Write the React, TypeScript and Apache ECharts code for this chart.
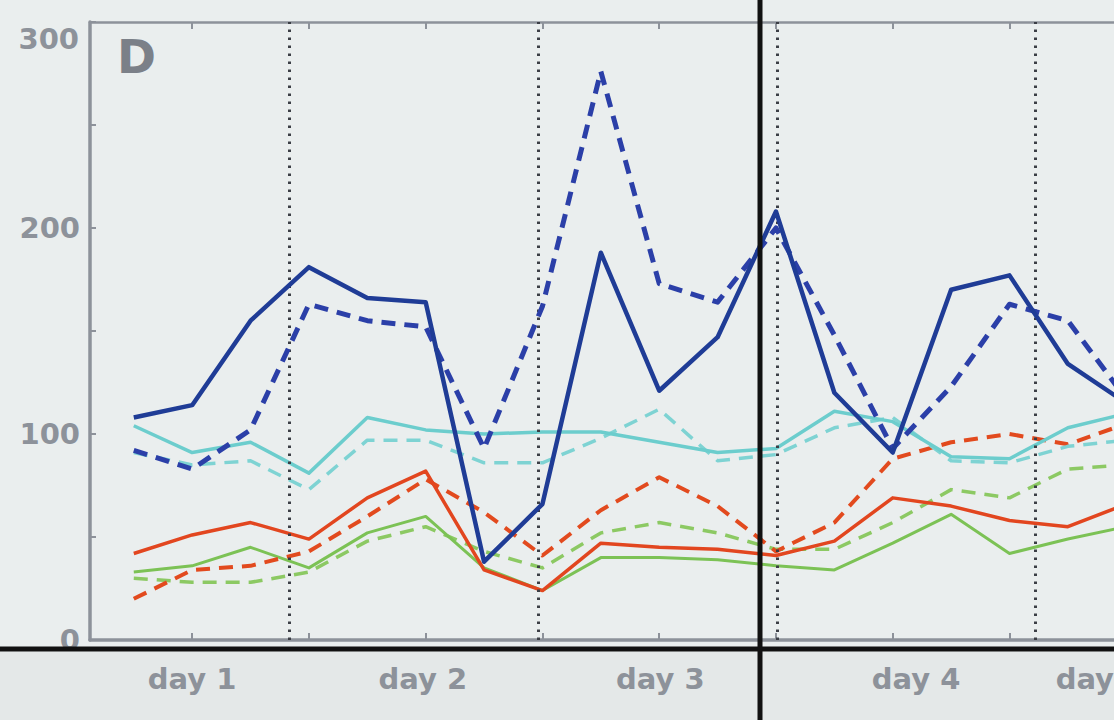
import React, { useEffect, useRef } from "react";
import * as echarts from "echarts";

// sample index 0..17 (four samples per ~day)
const solidBlue = [108, 114, 155, 181, 166, 164, 38, 66, 188, 121, 147, 208, 120, 91, 170, 177, 134, 115];
const dashedBlue = [92, 83, 102, 163, 155, 152, 93, 162, 276, 173, 164, 200, 148, 93, 123, 163, 155, 117];
const solidCyan = [104, 91, 96, 81, 108, 102, 100, 101, 101, 96, 91, 93, 111, 106, 89, 88, 103, 110];
const dashedCyan = [91, 85, 87, 73, 97, 97, 86, 86, 98, 112, 87, 90, 103, 108, 87, 86, 94, 97];
const solidRed = [42, 51, 57, 49, 69, 82, 34, 24, 47, 45, 44, 41, 48, 69, 65, 58, 55, 66];
const dashedRed = [20, 34, 36, 43, 60, 78, 62, 41, 63, 79, 65, 43, 57, 88, 96, 100, 95, 105];
const solidGreen = [33, 36, 45, 35, 52, 60, 35, 24, 40, 40, 39, 36, 34, 47, 61, 42, 49, 55];
const dashedGreen = [30, 28, 28, 33, 48, 55, 43, 35, 52, 57, 52, 44, 44, 57, 73, 69, 83, 85];

const dayLabels = ["day 1", "day 2", "day 3", "day 4", "day 5"];
const dayLabelPos = [1, 4.95, 9.02, 13.4, 16.55];
const tickPos = [1, 3, 5, 7, 9, 11, 13, 15];
const dayBoundaries = [2.67, 6.92, 11.02, 15.44];
const yTickLabels = [0, 100, 200, 300];

const toPairs = (arr: number[]) => arr.map((v, i) => [i, v]);

export default function App() {
  const ref = useRef<HTMLDivElement>(null);
  useEffect(() => {
    document.body.style.margin = "0";
    document.body.style.overflow = "hidden";
    const chart = echarts.init(ref.current!, undefined, { renderer: "svg" });
    const gray = "#8d929a";
    const font = "DejaVu Sans";
    const mk = (name: string, data: number[], color: string, width: number, dashed: boolean, z: number, extra: any = {}) => ({
      name,
      type: "line",
      data: toPairs(data),
      symbol: "none",
      z,
      lineStyle: { color, width, type: dashed ? [14, 9] : "solid", cap: "butt", join: "round" },
      ...extra,
    });
    chart.setOption({
      animation: false,
      backgroundColor: "#eaeeee",
      grid: { left: 90, top: 22, bottom: 80, right: 0, containLabel: false, outerBoundsMode: "none" },
      xAxis: [
        {
          type: "value",
          min: -0.75,
          max: 16.79,
          position: "bottom",
          splitLine: { show: false },
          axisLine: { show: true, onZero: false, lineStyle: { color: gray, width: 3.5 } },
          axisTick: { show: true, inside: true, length: 7, customValues: tickPos, lineStyle: { color: gray, width: 2 } },
          axisLabel: {
            customValues: dayLabelPos,
            formatter: (v: number) => {
              const k = dayLabelPos.findIndex((p) => Math.abs(p - v) < 1e-6);
              return k >= 0 ? dayLabels[k] : "";
            },
            color: gray,
            fontFamily: font,
            fontWeight: "bold",
            fontSize: 29,
            margin: 24,
          },
        },
        {
          type: "value",
          min: -0.75,
          max: 16.79,
          position: "top",
          splitLine: { show: false },
          axisLine: { show: true, onZero: false, lineStyle: { color: gray, width: 2.5 } },
          axisTick: { show: true, inside: true, length: 7, customValues: tickPos, lineStyle: { color: gray, width: 2 } },
          axisLabel: { show: false },
        },
      ],
      yAxis: {
        type: "value",
        min: 0,
        max: 300,
        interval: 50,
        splitLine: { show: false },
        axisLine: { show: true, onZero: false, lineStyle: { color: gray, width: 3.5 } },
        axisTick: { show: true, inside: true, length: 6, lineStyle: { color: gray, width: 2 } },
        axisLabel: {
          formatter: (v: number) => (yTickLabels.includes(v) && v !== 300 ? String(v) : ""),
          color: gray,
          fontFamily: font,
          fontWeight: "bold",
          fontSize: 29,
          margin: 10,
          padding: [0, 0, 12, 0],
        },
      },
      graphic: [
        { type: "rect", z: 0, silent: true, shape: { x: 0, y: 652, width: 1114, height: 68 }, style: { fill: "#e4e8e8" } },
        {
          type: "text",
          left: 117,
          top: 33,
          z: 10,
          style: { text: "D", fill: "#7b8088", font: "bold 47px DejaVu Sans" },
        },
        {
          type: "text",
          x: 79,
          y: 39,
          z: 10,
          style: { text: String(yTickLabels[3]), fill: gray, font: "bold 29px DejaVu Sans", align: "right", verticalAlign: "middle" },
        },
        { type: "line", z: 100, silent: true, shape: { x1: 0, y1: 649, x2: 1114, y2: 649 }, style: { stroke: "#111", lineWidth: 5 } },
        { type: "line", z: 100, silent: true, shape: { x1: 760, y1: 0, x2: 760, y2: 720 }, style: { stroke: "#111", lineWidth: 5 } },
      ],
      series: [
        mk("green dashed", dashedGreen, "#8cc963", 3.5, true, 2, {
          markLine: {
            silent: true,
            symbol: ["none", "none"],
            label: { show: false },
            lineStyle: { color: "#3b3e45", width: 3, type: [2.5, 5.5] },
            data: dayBoundaries.map((x) => ({ xAxis: x })),
          },
        }),
        mk("green", solidGreen, "#7cc255", 3, false, 2),
        mk("red dashed", dashedRed, "#e24a1e", 4, true, 3),
        mk("red", solidRed, "#e2461f", 3.5, false, 3),
        mk("cyan dashed", dashedCyan, "#7ed3d3", 3.5, true, 4),
        mk("cyan", solidCyan, "#6ccdcd", 3.5, false, 4),
        mk("blue dashed", dashedBlue, "#2b3fa8", 5, true, 5),
        mk("blue", solidBlue, "#1f3c96", 4.5, false, 5),
      ],
    });
    return () => chart.dispose();
  }, []);
  return <div ref={ref} style={{ width: 1114, height: 720 }} />;
}
